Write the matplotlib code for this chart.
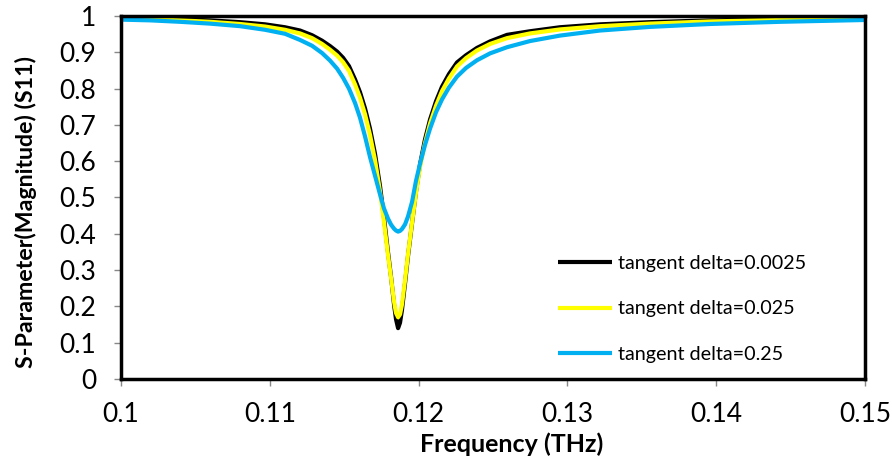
import matplotlib
matplotlib.use('Agg')
import matplotlib.pyplot as plt

# frequency points (THz)
freq = [0.10000, 0.10195, 0.10397, 0.10598, 0.10800, 0.10968, 0.11102, 0.11203,
        0.11284, 0.11351, 0.11405, 0.11452, 0.11492, 0.11532, 0.11573, 0.11606,
        0.11640, 0.11673, 0.11707, 0.11741, 0.11767, 0.11794, 0.11815, 0.11835,
        0.11848, 0.11862, 0.11875, 0.11888, 0.11909, 0.11929, 0.11956, 0.11982,
        0.12009, 0.12043, 0.12077, 0.12117, 0.12157, 0.12204, 0.12258, 0.12319,
        0.12392, 0.12480, 0.12594, 0.12749, 0.12950, 0.13219, 0.13555, 0.13958,
        0.14429, 0.15000]

s11_0025 = [0.995, 0.993, 0.991, 0.988, 0.983, 0.977, 0.969, 0.960,
            0.947, 0.932, 0.917, 0.902, 0.885, 0.862, 0.825, 0.790,
            0.745, 0.690, 0.620, 0.530, 0.445, 0.350, 0.280, 0.205,
            0.165, 0.140, 0.155, 0.190, 0.265, 0.340, 0.430, 0.515,
            0.590, 0.660, 0.715, 0.765, 0.805, 0.840, 0.872, 0.892,
            0.912, 0.930, 0.948, 0.958, 0.969, 0.977, 0.983, 0.988,
            0.991, 0.994]

s11_025 = [0.993, 0.991, 0.988, 0.984, 0.978, 0.971, 0.962, 0.952,
           0.939, 0.923, 0.907, 0.891, 0.873, 0.849, 0.811, 0.775,
           0.729, 0.673, 0.603, 0.515, 0.433, 0.342, 0.277, 0.213,
           0.182, 0.170, 0.178, 0.205, 0.273, 0.345, 0.432, 0.512,
           0.583, 0.650, 0.704, 0.753, 0.793, 0.828, 0.861, 0.884,
           0.905, 0.923, 0.939, 0.952, 0.963, 0.972, 0.979, 0.985,
           0.989, 0.992]

s11_25 = [0.990, 0.988, 0.984, 0.979, 0.972, 0.962, 0.951, 0.934,
          0.918, 0.898, 0.877, 0.855, 0.830, 0.800, 0.760, 0.720,
          0.668, 0.612, 0.560, 0.508, 0.470, 0.442, 0.425, 0.414,
          0.409, 0.406, 0.408, 0.413, 0.426, 0.448, 0.488, 0.545,
          0.592, 0.645, 0.690, 0.735, 0.770, 0.803, 0.833, 0.857,
          0.878, 0.897, 0.914, 0.931, 0.946, 0.960, 0.970, 0.978,
          0.984, 0.989]

labels = ['tangent delta=0.0025', 'tangent delta=0.025', 'tangent delta=0.25']
colors = ['#000000', '#FFFF00', '#00B0F0']

xticks = [0.1, 0.11, 0.12, 0.13, 0.14, 0.15]
xticklabels = ['0.1', '0.11', '0.12', '0.13', '0.14', '0.15']
yticks = [0, 0.1, 0.2, 0.3, 0.4, 0.5, 0.6, 0.7, 0.8, 0.9, 1]
yticklabels = ['0', '0.1', '0.2', '0.3', '0.4', '0.5', '0.6', '0.7', '0.8', '0.9', '1']

plt.rcParams['font.family'] = ['Lato', 'DejaVu Sans']

fig = plt.figure(figsize=(8.92, 4.61), dpi=100)
ax = fig.add_axes([0.1357, 0.1779, 0.8340, 0.7874])

for ys, c, lab in zip([s11_0025, s11_025, s11_25], colors, labels):
    ax.plot(freq, ys, color=c, linewidth=3, label=lab, solid_capstyle='butt')

ax.set_xlim(0.1, 0.15)
ax.set_ylim(0, 1)
ax.set_xticks(xticks)
ax.set_xticklabels(xticklabels)
ax.set_yticks(yticks)
ax.set_yticklabels(yticklabels)
ax.tick_params(axis='both', direction='out', length=5, width=1, color='#888888',
               labelsize=19)
ax.tick_params(axis='x', pad=11.5)
ax.tick_params(axis='y', pad=13)

for sp in ax.spines.values():
    sp.set_color('black')
    sp.set_linewidth(2.5)

ax.set_xlabel('Frequency (THz)', fontsize=18, fontweight='bold', labelpad=4)
ax.set_ylabel('S-Parameter(Magnitude) (S11)', fontsize=16.7, fontweight='bold', labelpad=16)
ax.xaxis.label.set_x(0.5255)
ax.yaxis.label.set_y(0.46)

ax.legend(loc='upper left', bbox_to_anchor=(0.587, 0.341), frameon=False,
          fontsize=14.2, handlelength=2.75, handletextpad=0.3, labelspacing=1.43,
          borderpad=0, borderaxespad=0)

fig.savefig('out.png', dpi=100)
